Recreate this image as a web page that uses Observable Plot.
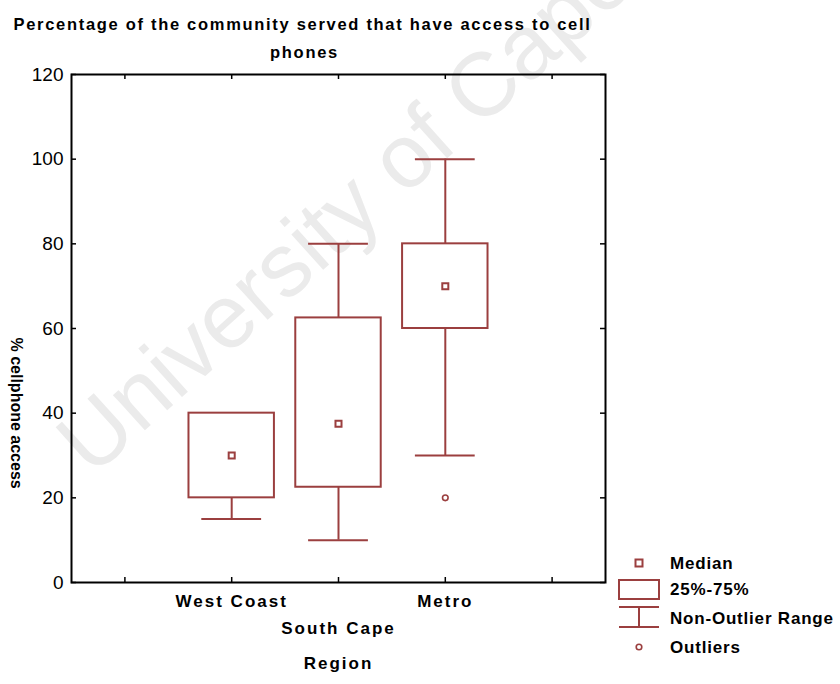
<!DOCTYPE html>
<html><head><meta charset="utf-8">
<script src="https://cdn.jsdelivr.net/npm/d3@7"></script>
<script src="https://cdn.jsdelivr.net/npm/@observablehq/plot@0.6"></script>
<style>body{margin:0;background:#fff} svg{display:block}</style>
</head><body><div id="chart"></div>
<script>
// ---- data ----
const regions = ["West Coast", "South Cape", "Metro"];
const q1 = [20, 22.5, 60];
const q3 = [40, 62.5, 80];
const medians = [30, 37.5, 70];
const whiskerLow = [15, 10, 30];
const whiskerHigh = [40, 80, 100];
const outlierRegion = ["Metro"];
const outlierValue = [20];
const yTicks = [0, 20, 40, 60, 80, 100, 120];
const titleLines = ["Percentage of the community served that have access to cell", "phones"];
const yLabel = "% cellphone access";
const xLabel = "Region";
const legendLabels = ["Median", "25%-75%", "Non-Outlier Range", "Outliers"];
const watermark = "University of Cape Town";

// ---- derived tables ----
const slot = i => i + 1.5;               // one empty slot on each side of the three regions
const boxes = regions.map((r, i) => ({
  region: r, pos: slot(i), q1: q1[i], q3: q3[i], med: medians[i],
  lo: whiskerLow[i], hi: whiskerHigh[i], row: i % 2
}));
const outliers = outlierRegion.map((r, i) => ({pos: slot(regions.indexOf(r)), v: outlierValue[i]}));
const slotTicks = d3.range(0, regions.length + 2).map(i => i + 0.5);

const C = "#9b3f3f";
const FONT = "'Liberation Sans', Arial, Helvetica, sans-serif";
const boxHalf = 0.4, capHalf = 0.28;
const W = 840, H = 684, mL = 71, mR = 235, mT = 74, mB = 102;
const fw = W - mL - mR, fh = H - mT - mB, tk = 5;

const plot = Plot.plot({
  width: W, height: H,
  marginLeft: mL, marginRight: mR, marginTop: mT, marginBottom: mB,
  style: {fontFamily: FONT, background: "#fff", color: "#000", overflow: "visible"},
  x: {domain: [0, regions.length + 2], axis: null},
  y: {domain: [0, 120], axis: null},
  marks: [
    // inward ticks on all four sides
    Plot.tickY(yTicks, {y: d => d, insetRight: fw - tk, stroke: "#000", strokeWidth: 1.5}),
    Plot.tickY(yTicks, {y: d => d, insetLeft: fw - tk, stroke: "#000", strokeWidth: 1.5}),
    Plot.tickX(slotTicks, {x: d => d, insetTop: fh - tk, stroke: "#000", strokeWidth: 1.5}),
    Plot.tickX(slotTicks, {x: d => d, insetBottom: fh - tk, stroke: "#000", strokeWidth: 1.5}),
    Plot.text(yTicks, {y: d => d, text: d => String(d), frameAnchor: "left", dx: -8, textAnchor: "end", fontSize: 19, fill: "#000"}),
    // box plots
    Plot.ruleX(boxes, {x: "pos", y1: "lo", y2: "q1", stroke: C, strokeWidth: 2}),
    Plot.ruleX(boxes.filter(d => d.hi > d.q3), {x: "pos", y1: "q3", y2: "hi", stroke: C, strokeWidth: 2}),
    Plot.ruleY(boxes, {y: "lo", x1: d => d.pos - capHalf, x2: d => d.pos + capHalf, stroke: C, strokeWidth: 2}),
    Plot.ruleY(boxes.filter(d => d.hi > d.q3), {y: "hi", x1: d => d.pos - capHalf, x2: d => d.pos + capHalf, stroke: C, strokeWidth: 2}),
    Plot.rect(boxes, {x1: d => d.pos - boxHalf, x2: d => d.pos + boxHalf, y1: "q1", y2: "q3", stroke: C, strokeWidth: 2, fill: "none"}),
    Plot.dot(boxes, {x: "pos", y: "med", symbol: "square", r: 3.4, stroke: C, strokeWidth: 2, fill: "white"}),
    Plot.dot(outliers, {x: "pos", y: "v", r: 2.8, stroke: C, strokeWidth: 1.6, fill: "white"}),
    Plot.frame({stroke: "#000", strokeWidth: 2}),
    // labels
    Plot.text(boxes.filter(d => d.row === 0), {x: "pos", text: "region", frameAnchor: "bottom", dy: 24, fontSize: 17, fontWeight: "bold", fill: "#000"}),
    Plot.text(boxes.filter(d => d.row === 1), {x: "pos", text: "region", frameAnchor: "bottom", dy: 51, fontSize: 17, fontWeight: "bold", fill: "#000"}),
    Plot.text([xLabel], {text: d => d, frameAnchor: "bottom", dy: 86, fontSize: 17, fontWeight: "bold", fill: "#000"}),
    Plot.text([yLabel], {text: d => d, frameAnchor: "left", dx: -55, dy: 9, rotate: 90, fontSize: 16, fontWeight: "bold", fill: "#000"}),
    Plot.text([titleLines[0]], {text: d => d, frameAnchor: "top", dx: -36, dy: -56, fontSize: 16.5, fontWeight: "bold", fill: "#000"}),
    Plot.text([titleLines[1]], {text: d => d, frameAnchor: "top", dx: -34, dy: -28, fontSize: 16.5, fontWeight: "bold", fill: "#000"})
  ]
});

const svg = d3.select(plot);
// letter spacing to match the wide scanned lettering
svg.selectAll("text").each(function() {
  const t = this.textContent;
  if (regions.includes(t) || t === xLabel) d3.select(this).style("letter-spacing", "2px");
  if (titleLines.includes(t)) d3.select(this).style("letter-spacing", "1.7px");
});

// watermark (behind everything)
svg.insert("text", ":first-child")
  .attr("transform", "translate(92,478) rotate(-42)")
  .attr("text-anchor", "start")
  .attr("font-family", FONT).attr("font-size", 90)
  .attr("fill", "#ebebeb").text(watermark);

// legend
const lg = svg.append("g").attr("font-family", FONT).attr("font-size", 17).attr("font-weight", "bold")
  .attr("text-anchor", "start").style("letter-spacing", "0.8px");
const lx = 619, lw = 40, cx = lx + lw / 2, tx = 670;
const rowsY = [563, 589, 618, 647];
lg.append("rect").attr("x", cx - 3.5).attr("y", rowsY[0] - 3.5).attr("width", 7).attr("height", 7)
  .attr("fill", "white").attr("stroke", C).attr("stroke-width", 2);
lg.append("rect").attr("x", lx).attr("y", 580).attr("width", lw).attr("height", 19)
  .attr("fill", "none").attr("stroke", C).attr("stroke-width", 2);
lg.append("path").attr("d", `M${lx},607H${lx + lw}M${cx},607V627M${lx},627H${lx + lw}`)
  .attr("fill", "none").attr("stroke", C).attr("stroke-width", 2);
lg.append("circle").attr("cx", cx).attr("cy", rowsY[3]).attr("r", 2.8)
  .attr("fill", "white").attr("stroke", C).attr("stroke-width", 1.6);
legendLabels.forEach((s, i) => {
  lg.append("text").attr("x", tx).attr("y", rowsY[i]).attr("dy", "0.35em").attr("fill", "#000").text(s);
});

document.getElementById("chart").append(plot);
</script>
</body></html>
